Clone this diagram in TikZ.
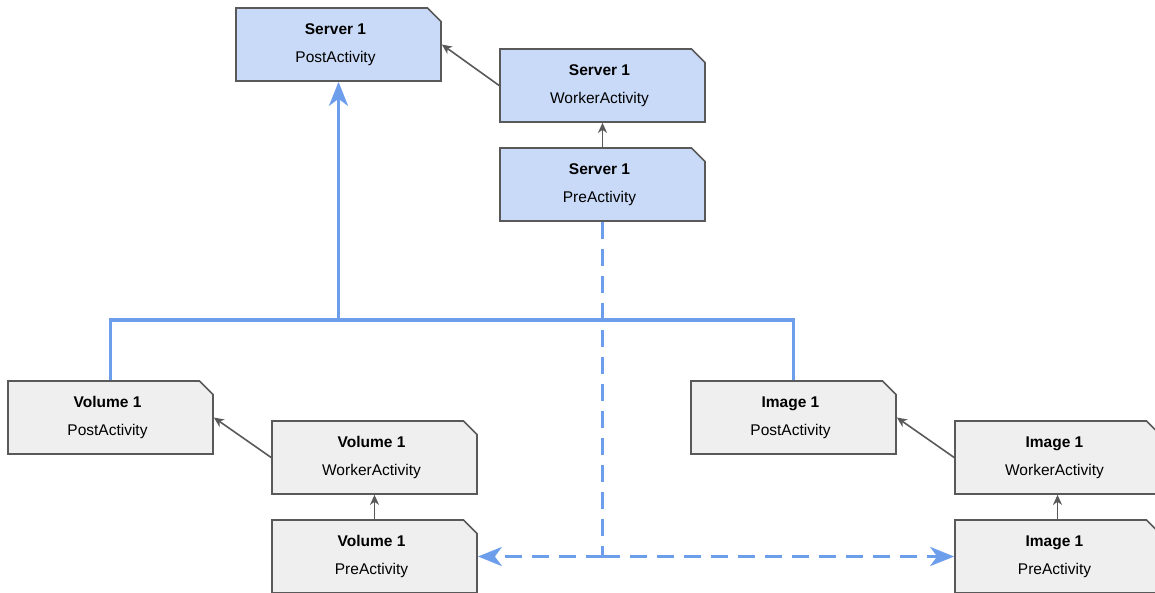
\documentclass[tikz,border=0pt]{standalone}
\usepackage{fontspec}
\setmainfont{Liberation Sans}
\usetikzlibrary{shapes.misc,arrows.meta}
\definecolor{bluefill}{HTML}{C9DAF8}
\definecolor{greyfill}{HTML}{EFEFEF}
\definecolor{edge}{HTML}{595959}
\definecolor{flow}{HTML}{6D9EEB}
\newcommand{\actlabel}[2]{\textbf{#1}\hspace*{6pt}\\#2\hspace*{6pt}}
\tikzset{
  act/.style={chamfered rectangle, chamfered rectangle corners=north east,
    chamfered rectangle xsep=10pt, chamfered rectangle angle=45,
    draw=edge, line width=1.7pt, minimum width=205pt, minimum height=73pt,
    inner sep=0pt, align=center, font=\fontsize{15.5}{28}\selectfont},
  srv/.style={act, fill=bluefill},
  gry/.style={act, fill=greyfill},
  link/.style={draw=edge, line width=1.6pt, -{Stealth[length=10pt,width=9pt,inset=3pt]}},
  bus/.style={draw=flow, line width=3.4pt},
  busarrow/.style={bus, -{Stealth[length=24pt,width=19pt,inset=7pt]}},
  flowdash/.style={draw=flow, line width=3.4pt, dash pattern=on 17pt off 10pt}
}
\begin{document}
\begin{tikzpicture}[x=1pt,y=-1pt]
\useasboundingbox (0,0) rectangle (1155,593);
\begin{scope}
\clip (0,0) rectangle (1155,593);
\node[srv] (spost) at (338.5,44.5) {\actlabel{Server 1}{PostActivity}};
\node[srv] (swork) at (602.5,85.5) {\actlabel{Server 1}{WorkerActivity}};
\node[srv] (spre) at (602.5,184.5) {\actlabel{Server 1}{PreActivity}};
\node[gry] (vpost) at (110.5,417.5) {\actlabel{Volume 1}{PostActivity}};
\node[gry] (vwork) at (374.5,457.5) {\actlabel{Volume 1}{WorkerActivity}};
\node[gry] (vpre) at (374.5,556.5) {\actlabel{Volume 1}{PreActivity}};
\node[gry] (ipost) at (793.5,417.5) {\actlabel{Image 1}{PostActivity}};
\node[gry] (iwork) at (1057.5,457.5) {\actlabel{Image 1}{WorkerActivity}};
\node[gry] (ipre) at (1057.5,556.5) {\actlabel{Image 1}{PreActivity}};

\draw[link] (swork.west) -- (spost.east);
\draw[link] (spre.north) -- (swork.south);
\draw[link] (vwork.west) -- (vpost.east);
\draw[link] (vpre.north) -- (vwork.south);
\draw[link] (iwork.west) -- (ipost.east);
\draw[link] (ipre.north) -- (iwork.south);

\coordinate (busy) at (0,320);
\draw[bus] (vpost.north) |- (ipost.north |- busy) -- (ipost.north);
\draw[busarrow] (spost.south |- busy) -- (spost.south);

\coordinate (split) at (spre.south |- vpre.east);
\draw[flowdash] (spre.south) -- (split);
\draw[flowdash, -{Stealth[length=24pt,width=19pt,inset=7pt]}] (split) -- (vpre.east);
\draw[flowdash, -{Stealth[length=24pt,width=19pt,inset=7pt]}] (split) -- (ipre.west);
\end{scope}
\end{tikzpicture}
\end{document}
